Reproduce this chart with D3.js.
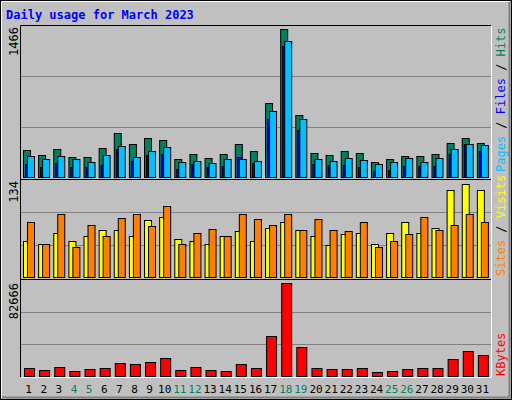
<!DOCTYPE html>
<html><head><meta charset="utf-8">
<script src="https://cdn.jsdelivr.net/npm/d3@7"></script>
<style>body{margin:0;background:#fff}svg{display:block}</style>
</head><body>
<script>
const days = d3.range(1,32);
const weekend = [4,5,11,12,18,19,25,26];
const hits  = [267,219,277,200,200,286,431,325,383,364,180,229,190,229,325,258,720,1434,605,238,219,258,238,151,180,209,209,229,335,383,335];
const files = [209,180,209,180,151,219,306,200,258,296,151,161,142,180,180,161,643,1318,566,180,161,190,170,132,151,190,151,190,277,325,315];
const pages = [132,103,142,103,103,122,277,161,219,229,84,132,103,113,200,142,566,1270,460,132,122,122,103,64,74,113,113,113,229,325,258];
const visits= [51,47,62,51,58,65,65,58,79,83,53,50,47,57,64,51,68,76,65,58,45,60,62,47,61,76,62,69,121,128,120];
const sites = [77,46,87,43,72,57,82,87,71,99,47,61,67,57,87,80,73,87,65,80,65,64,76,43,50,60,84,65,72,88,77];
const kbytes= [7490,5770,8350,4900,6630,7490,11800,10900,12650,16100,5770,8350,5770,4900,10900,7490,35000,79800,25600,7490,6630,6630,7490,4050,4900,6630,7490,7490,15200,22100,18700];
const maxHits=1466, maxVisits=134, maxKB=82666;

const W=512,H=400;
const svg=d3.select("body").append("svg").attr("width",W).attr("height",H);
const font="'DejaVu Sans Mono', monospace";
svg.append("rect").attr("width",W).attr("height",H).attr("fill","#c0c0c0");
// outer bevel
svg.append("rect").attr("x",0.5).attr("y",0.5).attr("width",W-1).attr("height",H-1).attr("fill","none").attr("stroke","#000");
svg.append("path").attr("d",`M1.5,${H-2}V1.5H${W-2}`).attr("fill","none").attr("stroke","#fff");
svg.append("path").attr("d",`M2,${H-2.5}H${W-2.5}V2`).attr("fill","none").attr("stroke","#808080").attr("stroke-width",2);

svg.append("text").attr("x",6).attr("y",19).attr("fill","#0000ff").attr("font-family",font)
  .attr("font-weight","bold").attr("font-size",12).text("Daily usage for March 2023");

const L=20,R=491;
const x=d3.scaleBand().domain(days).range([L+3,R+1]).paddingInner(0);
const panels=[{t:25,b:178},{t:179,b:278},{t:279,b:377}];
// panel frames
svg.append("path").attr("d",`M${L+0.5},${panels[2].b+0.5}V${panels[0].t+0.5}H${R+0.5}`).attr("fill","none").attr("stroke","#000");
svg.append("path").attr("d",`M${L+0.5},${panels[2].b+0.5}H${R+0.5}V${panels[0].t+0.5}`).attr("fill","none").attr("stroke","#fff");
[panels[1].t,panels[2].t].forEach(y=>svg.append("line").attr("x1",L).attr("x2",R).attr("y1",y+0.5).attr("y2",y+0.5).attr("stroke","#000"));

function grid(p){
  for(let i=1;i<3;i++){const y=Math.round(p.t+(p.b-p.t)*i/3)+0.5;
    svg.append("line").attr("x1",L+1).attr("x2",R).attr("y1",y).attr("y2",y).attr("stroke","#808080");}
}
panels.forEach(grid);

function bars(data,scale,color,dx,w){
  svg.append("g").selectAll("rect").data(data).join("rect")
    .attr("x",(d,i)=>x(days[i])+dx+0.5).attr("y",d=>Math.round(scale(d))+0.5)
    .attr("width",w).attr("height",d=>scale(0)-Math.round(scale(d))-1)
    .attr("fill",color).attr("stroke","#000");
}
const y1=d3.scaleLinear().domain([0,maxHits]).range([panels[0].b,panels[0].t+1]);
const y2=d3.scaleLinear().domain([0,maxVisits]).range([panels[1].b,panels[1].t+1]);
const y3=d3.scaleLinear().domain([0,maxKB]).range([panels[2].b,panels[2].t+1]);
bars(hits,y1,"#008060",0,7);
bars(pages,y1,"#0000ff",2,4);
bars(files,y1,"#00c0ff",4,7);
bars(visits,y2,"#ffff00",0,7);
bars(sites,y2,"#ff8000",4,7);
bars(kbytes,y3,"#ff0000",1,10);

// left max labels
function vlabel(txt,xp,yTop,color,anchor){
  svg.append("text").attr("transform",`translate(${xp},${yTop}) rotate(-90)`).attr("text-anchor",anchor)
    .attr("font-family",font).attr("font-size",12).attr("fill",color).text(txt);
}
vlabel(maxHits,18,27,"#000","end");
vlabel(maxVisits,18,181,"#000","end");
vlabel(maxKB,18,283,"#000","end");

// right legends
function legend(parts,yBottom){
  const t=svg.append("text").attr("transform",`translate(${505},${yBottom}) rotate(-90)`)
    .attr("font-family",font).attr("font-size",12);
  parts.forEach(([s,c])=>t.append("tspan").attr("fill",c).text(s));
}
legend([["Pages","#00c0ff"],[" / ","#000"],["Files","#0000ff"],[" / ","#000"],["Hits","#008060"]],172);
legend([["Sites","#ff8000"],[" / ","#000"],["Visits","#ffff00"]],276);
legend([["KBytes","#ff0000"]],376);

// x labels
svg.append("g").selectAll("text").data(days).join("text")
  .attr("x",d=>x(d)+x.bandwidth()/2-2).attr("y",393).attr("text-anchor","middle")
  .attr("font-family",font).attr("font-size",11)
  .attr("fill",d=>weekend.includes(d)?"#008060":"#000").text(d=>d);
</script>
</body></html>
